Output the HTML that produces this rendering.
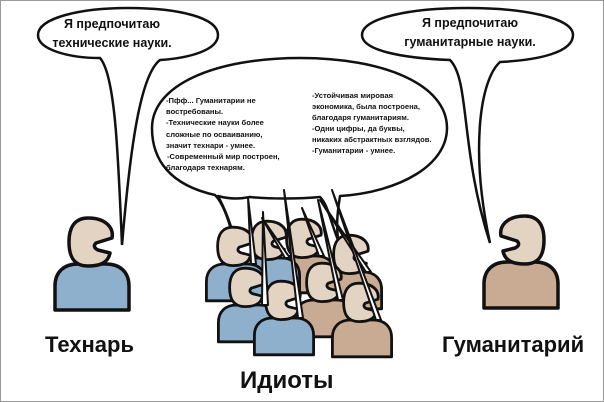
<!DOCTYPE html>
<html><head><meta charset="utf-8"><style>
html,body{margin:0;padding:0;background:#fff}
svg{display:block}
text{font-family:"Liberation Sans","DejaVu Sans",sans-serif;font-weight:bold;fill:#111}
</style></head><body>
<svg width="604" height="402" viewBox="0 0 604 402" xmlns="http://www.w3.org/2000/svg">
<defs>
<g id="head"><path d="M -4,-46 C 14,-46 22,-36 20,-26 L 4,-21 Q 0,-17 6,-14 L 18,-11 C 16,0 6,2 -4,2 C -20,2 -23,-10 -23,-22 C -23,-38 -16,-46 -4,-46 Z" fill="#e2d3c3" stroke="#111" stroke-width="3.5" stroke-linejoin="round"/></g>
<path id="body" d="M -37,46 L -37,22 C -37,8 -28,0 -14,0 L 14,0 C 28,0 37,8 37,22 L 37,46 Z" stroke="#111" stroke-width="3.5" stroke-linejoin="round"/>
</defs>
<rect x="0.5" y="0.5" width="603" height="401" fill="#fff" stroke="#999"/>

<path d="M100,58 C70,58 38,50 38,35 C38,18 80,8 128,8 C180,8 218,18 218,35 C218,50 190,58 160,60 C140,75 130,150 122,245 C118,150 115,75 100,58 Z" fill="#fff" stroke="#111" stroke-width="2.5"/>
<text x="112" y="28" font-size="12.5" text-anchor="middle">Я предпочитаю</text>
<text x="112" y="47" font-size="12.5" text-anchor="middle">технические науки.</text>

<path d="M450,60 C400,58 362,50 362,35 C362,18 410,8 467,8 C525,8 573,18 573,35 C573,52 540,60 500,62 C480,80 470,150 490,243 C460,150 470,80 450,60 Z" fill="#fff" stroke="#111" stroke-width="2.5"/>
<text x="470" y="27" font-size="12.5" text-anchor="middle">Я предпочитаю</text>
<text x="470" y="46" font-size="12.5" text-anchor="middle">гуманитарные науки.</text>

<path d="M215,195 C170,185 152,160 152,128 C152,85 215,58 300,58 C385,58 447,85 447,128 C447,165 400,192 340,196 C338,210 336,220 338,240 C330,220 328,205 320,197 C300,199 270,199 250,197 C235,200 225,198 218,196 C228,215 235,235 238,258 C232,230 225,205 215,195 Z" fill="#fff" stroke="#111" stroke-width="2.5" stroke-linejoin="round"/>
<g font-size="7.6">
<text x="166" y="103">-Пфф... Гуманитарии не</text>
<text x="166" y="114">востребованы.</text>
<text x="166" y="125">-Технические науки более</text>
<text x="166" y="137">сложные по осваиванию,</text>
<text x="166" y="148">значит технари - умнее.</text>
<text x="167" y="159">-Современный мир построен,</text>
<text x="166" y="170">благодаря технарям.</text>
<text x="312" y="98">-Устойчивая мировая</text>
<text x="312" y="109">экономика, была построена,</text>
<text x="312" y="120">благодаря гуманитариям.</text>
<text x="312" y="131">-Одни цифры, да буквы,</text>
<text x="312" y="142">никаких абстрактных взглядов.</text>
<text x="312" y="153">-Гуманитарии - умнее.</text>
</g>

<g transform="translate(92,264)"><use href="#body" fill="#8fb0cc"/><use href="#head"/></g>
<g transform="translate(521,262) scale(-1,1)"><use href="#body" fill="#c9ab94"/><use href="#head"/></g>

<g stroke="#111" stroke-width="2" fill="#fff" stroke-linejoin="round">
<g transform="translate(305,256) scale(0.8)"><use href="#body" fill="#c9ab94"/><use href="#head"/></g>
<g transform="translate(270,258) scale(0.8)"><use href="#body" fill="#8fb0cc"/><use href="#head"/></g>
<g transform="translate(352,272) scale(0.8)"><use href="#body" fill="#c9ab94"/><use href="#head"/></g>
<g transform="translate(236,264) scale(0.8)"><use href="#body" fill="#8fb0cc"/><use href="#head"/></g>
<g transform="translate(325,300) scale(0.8)"><use href="#body" fill="#c9ab94"/><use href="#head"/></g>
<g transform="translate(248,305) scale(0.8)"><use href="#body" fill="#8fb0cc"/><use href="#head"/></g>
<g transform="translate(362,320) scale(0.8)"><use href="#body" fill="#c9ab94"/><use href="#head"/></g>
<g transform="translate(284,318) scale(0.8)"><use href="#body" fill="#8fb0cc"/><use href="#head"/></g>
<path d="M251,264 L248,198 L256,264 Z"/>
<path d="M262,305 L263,212 L268,305 Z"/>
<path d="M298,318 L284,190 L303,318 Z"/>
<path d="M285,258 L262,218 L290,258 Z"/>
<path d="M319,256 L302,208 L324,256 Z"/>
<path d="M338,300 L318,200 L343,300 Z"/>
<path d="M366,272 L320,200 L371,272 Z"/>
<path d="M376,320 L332,190 L381,320 Z"/>
</g>

<text x="45" y="352" font-size="22">Технарь</text>
<text x="442" y="352" font-size="22">Гуманитарий</text>
<text x="240" y="388" font-size="24">Идиоты</text>
</svg>
</body></html>
